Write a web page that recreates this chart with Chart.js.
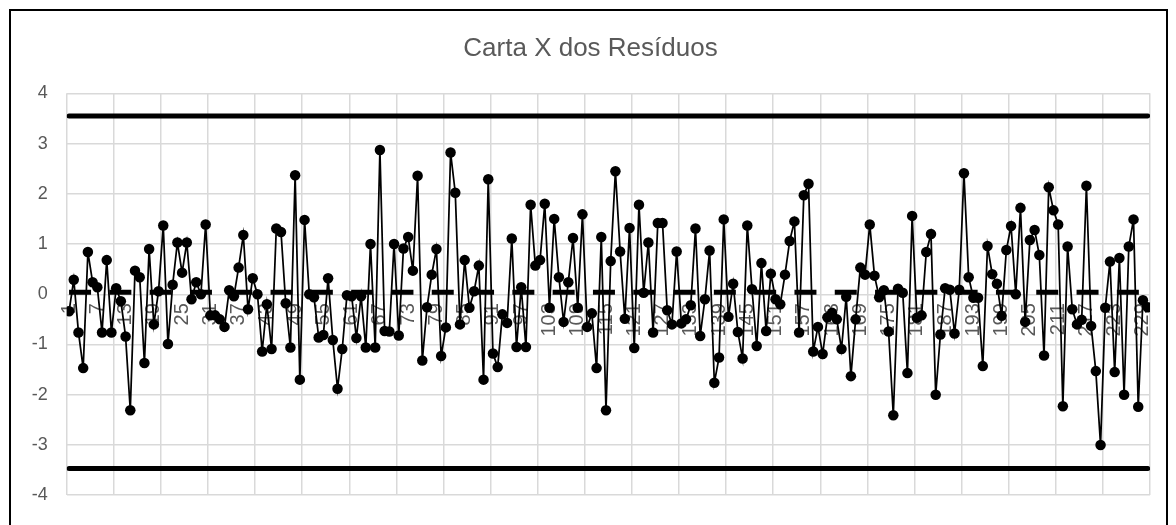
<!DOCTYPE html>
<html>
<head>
<meta charset="utf-8">
<script src="https://cdn.jsdelivr.net/npm/chart.js@4.4.1/dist/chart.umd.min.js"></script>
<style>
    body { margin: 0; background: #fff; }
    #wrap { position: relative; width: 1176px; height: 525px; overflow: hidden; }
    #frame { position: absolute; left: 9px; top: 9px; width: 1159px; height: 600px; border: 2px solid #000; box-sizing: border-box; }
    canvas { position: absolute; left: 0; top: 0; }
</style>
</head>
<body>
<div id="wrap">
    <div id="frame"></div>
    <canvas id="chart" width="1176" height="525"></canvas>
</div>
<script>
const residuals = [
    -0.34, 0.29, -0.76, -1.47, 0.84, 0.24, 0.14, -0.76, 0.68, -0.76,
    0.12, -0.14, -0.84, -2.31, 0.47, 0.34, -1.37, 0.90, -0.60, 0.06,
    1.37, -0.99, 0.19, 1.03, 0.43, 1.03, -0.10, 0.24, 0.00, 1.39,
    -0.42, -0.42, -0.50, -0.65, 0.08, -0.04, 0.53, 1.18, -0.30, 0.32,
    0.00, -1.14, -0.20, -1.09, 1.31, 1.24, -0.18, -1.06, 2.37, -1.70,
    1.48, 0.00, -0.06, -0.86, -0.81, 0.32, -0.91, -1.88, -1.09, -0.02,
    -0.04, -0.87, -0.04, -1.06, 1.00, -1.06, 2.87, -0.73, -0.74, 1.00,
    -0.82, 0.91, 1.14, 0.47, 2.36, -1.32, -0.26, 0.39, 0.90, -1.23,
    -0.66, 2.82, 2.02, -0.60, 0.68, -0.27, 0.06, 0.57, -1.70, 2.29,
    -1.18, -1.45, -0.40, -0.57, 1.11, -1.05, 0.14, -1.05, 1.78, 0.57,
    0.68, 1.80, -0.27, 1.50, 0.34, -0.55, 0.24, 1.12, -0.27, 1.59,
    -0.65, -0.38, -1.47, 1.14, -2.31, 0.66, 2.45, 0.85, -0.49, 1.32,
    -1.07, 1.78, 0.03, 1.03, -0.76, 1.42, 1.42, -0.32, -0.60, 0.85,
    -0.58, -0.50, -0.22, 1.31, -0.83, -0.10, 0.87, -1.76, -1.26, 1.49,
    -0.45, 0.21, -0.75, -1.28, 1.37, 0.10, -1.03, 0.62, -0.73, 0.41,
    -0.10, -0.20, 0.39, 1.06, 1.45, -0.76, 1.97, 2.20, -1.14, -0.65,
    -1.19, -0.46, -0.37, -0.50, -1.09, -0.05, -1.63, -0.50, 0.53, 0.39,
    1.39, 0.37, -0.06, 0.08, -0.74, -2.41, 0.11, 0.03, -1.57, 1.56,
    -0.47, -0.42, 0.84, 1.20, -2.00, -0.80, 0.12, 0.09, -0.78, 0.09,
    2.41, 0.34, -0.07, -0.07, -1.43, 0.96, 0.40, 0.21, -0.43, 0.88,
    1.36, 0.00, 1.72, -0.55, 1.08, 1.28, 0.78, -1.22, 2.13, 1.67,
    1.39, -2.23, 0.95, -0.30, -0.60, -0.51, 2.16, -0.63, -1.53, -3.00,
    -0.27, 0.65, -1.55, 0.72, -2.00, 0.95, 1.49, -2.24, -0.12, -0.26
];

// Control limits
const ucl = 3.55;
const centerLine = 0.04;
const lcl = -3.47;

// Category labels shown on the axis (every 6th observation)
const xTickLabels = [];
for (let k = 1; k <= residuals.length; k += 6) xTickLabels.push(k);

// Vertical gridlines every 10 categories (between tick marks)
const xGridTicks = [];
for (let k = 0; k <= residuals.length; k += 10) xGridTicks.push(k + 0.5);

const yTicks = [-4, -3, -2, -1, 0, 1, 2, 3, 4];

const fontFamily = 'Arial, "Liberation Sans", sans-serif';
const textColor = '#595959';
const gridColor = '#d9d9d9';

const points = residuals.map((v, i) => ({ x: i + 1, y: v }));
const constLine = value => residuals.map((v, i) => ({ x: i + 1, y: value }));

const ctx = document.getElementById('chart').getContext('2d');
new Chart(ctx, {
    type: 'line',
    data: {
        datasets: [
            {
                label: 'Resíduos',
                data: points,
                borderColor: '#000',
                backgroundColor: '#000',
                borderWidth: 1.75,
                pointRadius: 5.25,
                pointBorderWidth: 0,
                pointBackgroundColor: '#000',
                order: 2
            },
            {
                label: 'LSC',
                data: constLine(ucl),
                borderColor: '#000',
                borderWidth: 5,
                borderCapStyle: 'round',
                pointRadius: 0,
                order: 1
            },
            {
                label: 'LC',
                data: constLine(centerLine),
                borderColor: '#000',
                borderWidth: 5,
                borderDash: [22, 18.3],
                pointRadius: 0,
                order: 1
            },
            {
                label: 'LIC',
                data: constLine(lcl),
                borderColor: '#000',
                borderWidth: 5,
                borderCapStyle: 'round',
                pointRadius: 0,
                order: 1
            }
        ]
    },
    options: {
        responsive: false,
        animation: false,
        devicePixelRatio: 1,
        layout: {
            padding: { top: 10, left: 31, right: 26, bottom: 26 }
        },
        plugins: {
            legend: { display: false },
            tooltip: { enabled: false },
            title: {
                display: true,
                text: 'Carta X dos Resíduos',
                color: textColor,
                font: { family: fontFamily, size: 26, weight: 'normal' },
                padding: { top: 23, bottom: 29.1 }
            }
        },
        scales: {
            x: {
                type: 'linear',
                min: 0.5,
                max: residuals.length + 0.5,
                position: { y: 0 },
                grid: { display: false },
                border: { display: false },
                afterBuildTicks: scale => {
                    scale.ticks = xTickLabels.map(v => ({ value: v }));
                },
                afterFit: scale => { scale.height = 0; },
                ticks: {
                    autoSkip: false,
                    minRotation: 90,
                    maxRotation: 90,
                    padding: 1,
                    color: textColor,
                    font: { family: fontFamily, size: 20 },
                    callback: v => String(v)
                }
            },
            xg: {
                type: 'linear',
                min: 0.5,
                max: residuals.length + 0.5,
                position: 'bottom',
                afterBuildTicks: scale => {
                    scale.ticks = xGridTicks.map(v => ({ value: v }));
                },
                afterFit: scale => { scale.height = 0; },
                ticks: { display: false },
                grid: { color: gridColor, lineWidth: 1.5, drawTicks: false },
                border: { display: false }
            },
            y: {
                min: -4,
                max: 4,
                afterBuildTicks: scale => {
                    scale.ticks = yTicks.map(v => ({ value: v }));
                },
                afterFit: scale => { scale.width = 35.7; },
                grid: { color: gridColor, lineWidth: 1.5, drawTicks: false },
                border: { display: false },
                ticks: {
                    padding: 19,
                    color: textColor,
                    font: { family: fontFamily, size: 18 }
                }
            }
        }
    }
});
</script>
</body>
</html>
